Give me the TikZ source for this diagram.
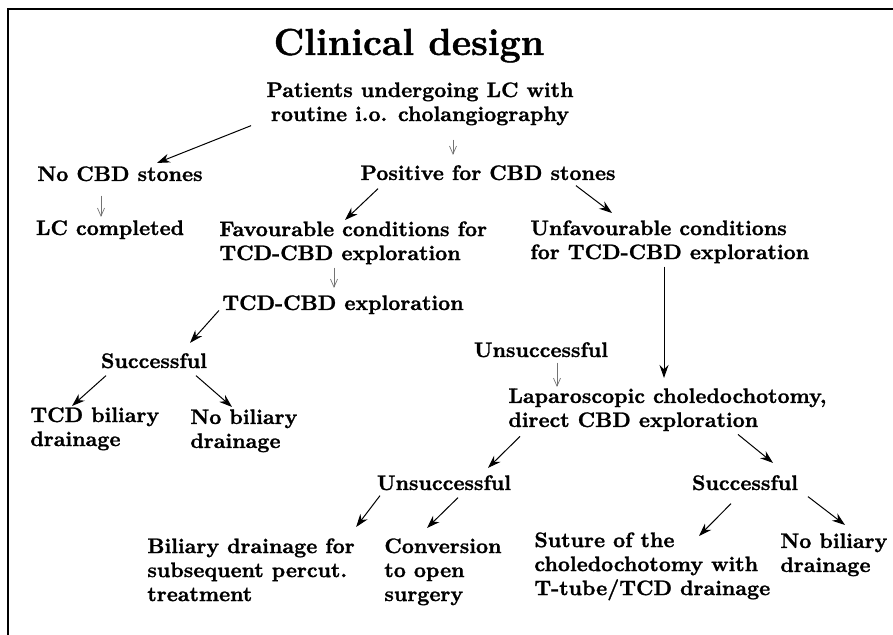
\documentclass[tikz,border=0pt]{standalone}
\usepackage{fontspec}
\setmainfont{Latin Modern Roman}[BoldFeatures={FakeBold=1.2}]
\usepackage{tikz}
\usetikzlibrary{arrows.meta}

\begin{document}
\begin{tikzpicture}[x=0.5pt, y=-0.5pt,
  every node/.style={font=\fontsize{10.5}{12}\selectfont\bfseries, inner sep=0pt},
  lbl/.style={anchor=base},
  blk/.style={anchor=north west, align=left},
  arr/.style={-{Stealth[length=6.5pt, width=4.5pt]}, line width=0.5pt},
  thinarr/.style={-{Straight Barb[length=4pt, width=3.5pt]}, line width=0.35pt, black!55}]
  \useasboundingbox (0,0) rectangle (893,635);
  % Frame (top and left edges only)
  \draw[line width=1pt] (8,635) -- (8,9) -- (893,9);
  % Title and root
  \node[font=\fontsize{18.8}{22}\selectfont\bfseries, lbl] (title) at (409,55) {Clinical design};
  \node[anchor=north, align=center] (patients) at (420,82)
    {Patients undergoing LC with\\routine i.o. cholangiography};
  % Second level
  \node[lbl] (nocbd)    at (120,181) {No CBD stones};
  \node[lbl] (positive) at (488,180) {Positive for CBD stones};
  \node[lbl] (lccompl)  at (110,235) {LC completed};
  \node[blk] (favour)   at (219,221) {Favourable conditions for\\TCD-CBD exploration};
  \node[blk] (unfavour) at (530,220) {Unfavourable conditions\\for TCD-CBD exploration};
  % Favourable branch
  \node[lbl] (tcdexpl)  at (343,310) {TCD-CBD exploration};
  \node[lbl] (succL)    at (154,368) {Successful};
  \node[blk] (tcddrain) at (30,407)  {TCD biliary\\drainage};
  \node[blk] (nodrainL) at (190,409) {No biliary\\drainage};
  % Unfavourable branch
  \node[lbl] (unsuccM)  at (541,357) {Unsuccessful};
  \node[blk] (lapchol)  at (508,388) {Laparoscopic choledochotomy,\\direct CBD exploration};
  \node[lbl] (unsuccR)  at (444,490) {Unsuccessful};
  \node[lbl] (succR)    at (745,490) {Successful};
  \node[blk] (bilpercut)  at (147,538) {Biliary drainage for\\subsequent percut.\\treatment};
  \node[blk] (conversion) at (384,538) {Conversion\\to open\\surgery};
  \node[blk] (suture)   at (534,532) {Suture of the\\choledochotomy with\\T-tube/TCD drainage};
  \node[blk] (nodrainR) at (780,533) {No biliary\\drainage};
  % Connectors from the root
  \draw[arr] ([xshift=-7.5pt]patients.south west) -- ([xshift=18.5pt,yshift=1.5pt]nocbd.north);
  \draw[thinarr] ([xshift=16.5pt,yshift=-7pt]patients.south) -- ([xshift=-17.5pt,yshift=5pt]positive.north);
  \draw[thinarr] ([xshift=-9.5pt,yshift=-7pt]nocbd.south) -- ([xshift=-4.5pt,yshift=1.5pt]lccompl.north);
  \draw[arr] ([xshift=9pt,yshift=-4pt]positive.south west) -- ([xshift=63pt,yshift=0.5pt]favour.north west);
  \draw[arr] ([xshift=-20pt,yshift=-2.5pt]positive.south east) -- ([xshift=41pt,yshift=3.5pt]unfavour.north west);
  % Favourable branch
  \draw[thinarr] ([xshift=57.5pt,yshift=-1.5pt]favour.south west) -- ([xshift=-4.5pt,yshift=3.5pt]tcdexpl.north);
  \draw[arr] ([xshift=-1.5pt,yshift=2pt]tcdexpl.south west) -- ([xshift=18pt,yshift=5pt]succL.north);
  \draw[arr] ([xshift=-24pt,yshift=-3.5pt]succL.south) -- ([xshift=21pt,yshift=0.5pt]tcddrain.north west);
  \draw[arr] ([xshift=21pt,yshift=-3.5pt]succL.south) -- ([xshift=21pt,yshift=1pt]nodrainL.north west);
  % Unfavourable branch
  \draw[arr] ([xshift=67pt,yshift=-1.5pt]unfavour.south west) -- ([xshift=78pt,yshift=5pt]lapchol.north west);
  \draw[thinarr] ([xshift=8pt,yshift=-2.5pt]unsuccM.south) -- ([xshift=24.5pt,yshift=0.5pt]lapchol.north west);
  \draw[arr] ([xshift=6pt,yshift=-2.5pt]lapchol.south west) -- ([xshift=22pt,yshift=3.5pt]unsuccR.north);
  \draw[arr] ([xshift=115pt,yshift=-1.5pt]lapchol.south west) -- ([xshift=14pt,yshift=6pt]succR.north);
  \draw[arr] ([xshift=-32pt,yshift=-2.5pt]unsuccR.south) -- ([xshift=0.5pt,yshift=5.5pt]bilpercut.north east);
  \draw[arr] ([xshift=7pt,yshift=-3.5pt]unsuccR.south) -- ([xshift=21.5pt,yshift=5pt]conversion.north west);
  \draw[arr] ([xshift=-7pt,yshift=-6.5pt]succR.south) -- ([xshift=82.5pt,yshift=-2pt]suture.north west);
  \draw[arr] ([xshift=31.5pt,yshift=-3pt]succR.south) -- ([xshift=32.5pt,yshift=4pt]nodrainR.north west);
\end{tikzpicture}
\end{document}
